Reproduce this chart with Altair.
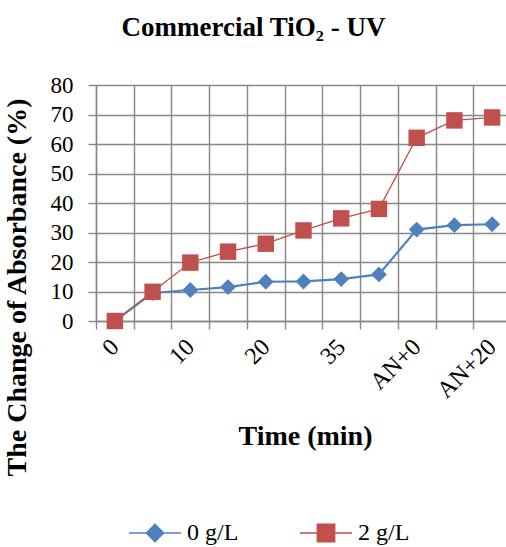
import altair as alt
import pandas as pd

times = ["0", "5", "10", "15", "20", "25", "35", "45", "AN+0", "AN+10", "AN+20"]
shown_labels = ["0", "10", "20", "35", "AN+0", "AN+20"]
series_names = ["0 g/L", "2 g/L"]
vals_0 = [0, 9.5, 10.5, 11.5, 13.3, 13.4, 14.2, 15.8, 31.0, 32.5, 32.8]
vals_2 = [0, 9.9, 19.8, 23.5, 26.2, 30.7, 34.8, 38.0, 62.1, 68.0, 69.0]
y_ticks = [0, 10, 20, 30, 40, 50, 60, 70, 80]
colors = ["#4F81BD", "#C0504D"]
legend_paths = [
    "M-1,0L-0.33,0M-0.33,0L0,-0.33L0.33,0L0,0.33ZM0.33,0L1,0",
    "M-1,0L-0.33,0M-0.33,-0.33L0.33,-0.33L0.33,0.33L-0.33,0.33L-0.33,-0.33ZM0.33,0L1,0",
]

rows = []
for t, v in zip(times, vals_0):
    rows.append({"time": t, "value": v, "series": series_names[0]})
for t, v in zip(times, vals_2):
    rows.append({"time": t, "value": v, "series": series_names[1]})
df = pd.DataFrame(rows)

FONT = "Liberation Serif"
GRID = "#878787"

label_list = "[" + ",".join("'" + s + "'" for s in shown_labels) + "]"

x_enc = alt.X(
    "time:N",
    sort=times,
    scale=alt.Scale(type="band", domain=times, paddingInner=0, paddingOuter=0),
    axis=alt.Axis(
        title="Time (min)",
        tickBand="extent",
        grid=True,
        labelAngle=-45,
        labelAlign="right",
        labelBaseline="middle",
        labelPadding=14,
        labelFontSize=24,
        labelOverlap=False,
        labelExpr="indexof(" + label_list + ", datum.label) >= 0 ? datum.label : ''",
        titleX=209,
        titleY=123,
        titleAlign="center",
        titleBaseline="alphabetic",
    ),
)
y_enc = alt.Y(
    "value:Q",
    scale=alt.Scale(domain=[0, 80], nice=False, zero=True),
    axis=alt.Axis(
        title="The Change of Absorbance (%)",
        values=y_ticks,
        labelPadding=15,
        titleX=-79,
        titleY=202,
        titleAngle=-90,
        titleAlign="center",
        titleBaseline="middle",
    ),
)

base = alt.Chart(df).encode(x=x_enc, y=y_enc)

line0 = base.transform_filter(alt.datum.series == series_names[0]).mark_line(
    color=colors[0], strokeWidth=2.2
)
line2 = base.transform_filter(alt.datum.series == series_names[1]).mark_line(
    color=colors[1], strokeWidth=1.3
)
pts0 = base.transform_filter(alt.datum.series == series_names[0]).mark_point(
    shape="diamond", filled=True, size=250, color=colors[0], opacity=1
)
pts2 = base.transform_filter(alt.datum.series == series_names[1]).mark_point(
    shape="square", filled=True, size=270, color=colors[1], opacity=1
)

leg = alt.Legend(
    title=None,
    orient="none",
    direction="horizontal",
    legendX=32,
    legendY=421,
    symbolSize=2704,
    symbolStrokeWidth=1.6,
    symbolOpacity=1,
    labelFont=FONT,
    labelFontSize=24,
    labelColor="black",
    labelOffset=5,
    columnPadding=57,
)
legend_layer = (
    base.transform_filter("false")
    .mark_point(filled=True)
    .encode(
        fill=alt.Fill("series:N", scale=alt.Scale(domain=series_names, range=colors), legend=leg),
        stroke=alt.Stroke("series:N", scale=alt.Scale(domain=series_names, range=colors), legend=leg),
        shape=alt.Shape("series:N", scale=alt.Scale(domain=series_names, range=legend_paths), legend=leg),
    )
)

chart = (
    alt.layer(line0, line2, pts0, pts2, legend_layer)
    .properties(
        width=415,
        height=236,
        autosize=alt.AutoSizeParams(type="none"),
        padding={"left": 96, "top": 85, "right": -5, "bottom": 226},
        background="white",
        title=alt.TitleParams(
            text="Commercial TiO\u2082 - UV",
            font=FONT,
            fontSize=27,
            fontWeight="bold",
            color="black",
            anchor="middle",
            dx=-50,
            offset=11,
            baseline="alphabetic",
        ),
    )
    .configure_view(stroke="transparent")
    .configure_axis(
        domainColor=GRID,
        domainWidth=1.4,
        gridColor=GRID,
        gridWidth=1.4,
        gridOpacity=1,
        tickColor=GRID,
        tickWidth=1.4,
        tickSize=8,
        labelFont=FONT,
        labelFontSize=23,
        labelColor="black",
        titleFont=FONT,
        titleFontSize=28,
        titleFontWeight="bold",
        titleColor="black",
    )
)

chart.save("out.html", embed_options={"renderer": "svg", "actions": False})
